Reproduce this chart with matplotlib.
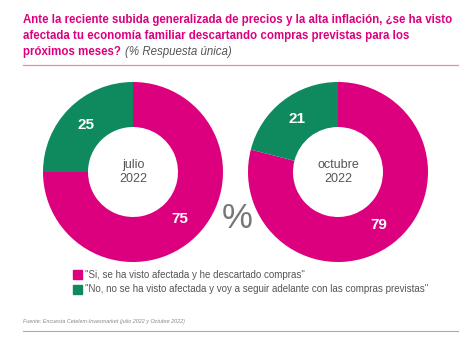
import matplotlib.pyplot as plt
from matplotlib.patches import Rectangle
from matplotlib.lines import Line2D

plt.rcParams['font.family'] = ['Liberation Sans', 'DejaVu Sans']

# data
periodos = ["julio\n2022", "octubre\n2022"]
si_afectada = [75, 79]
no_afectada = [25, 21]
leyenda = ['"Si, se ha visto afectada y he descartado compras"',
           '"No, no se ha visto afectada y voy a seguir adelante con las compras previstas"']
titulo = ["Ante la reciente subida generalizada de precios y la alta inflación, ¿se ha visto",
          "afectada tu economía familiar descartando compras previstas para los",
          "próximos meses?"]

rosa = "#DC007F"
verde = "#0E8A5E"
gris = "#555555"

W, H = 474, 337
fig = plt.figure(figsize=(W / 100, H / 100), dpi=100)

# TITULO
for i, linea in enumerate(titulo):
    t = fig.text(23 / W, 1 - (23.5 + i * 15.5) / H, linea, color=rosa, fontsize=8.3,
                 fontweight="bold", va="baseline", ha="left")
fig.canvas.draw()
bb = t.get_window_extent()
fig.text(bb.x1 / W + 4 / W, 1 - 54.5 / H, "(% Respuesta única)", color=gris, fontsize=8.3,
         fontstyle="italic", va="baseline", ha="left")
fig.add_artist(Line2D([23 / W, 458 / W], [1 - 65 / H, 1 - 65 / H], color="#E08BBE", lw=0.9))

# DONUTS
centros = [133, 338]
radio = 90
for cx, per, si, no in zip(centros, periodos, si_afectada, no_afectada):
    ax = fig.add_axes([(cx - radio) / W, 1 - (172 + radio) / H, 2 * radio / W, 2 * radio / H])
    wedges, txts, autotxt = ax.pie([si, no], colors=[rosa, verde], startangle=90,
                                   counterclock=False, radius=1,
                                   wedgeprops=dict(width=0.5, edgecolor="none"),
                                   autopct="%d", pctdistance=0.74,
                                   textprops=dict(color="white", fontsize=11, fontweight="bold"))
    for a, v in zip(autotxt, [si, no]):
        a.set_text(str(v))
    ax.text(0, 0, per, ha="center", va="center", color=gris, fontsize=9, linespacing=1.2)
    ax.set_xlim(-1, 1)
    ax.set_ylim(-1, 1)
    ax.set_aspect("equal")
    ax.axis("off")

fig.text(237.5 / W, 1 - 219 / H, "%", color="#777777", fontsize=25, ha="center", va="center")

# LEYENDA
for i, (txt, c) in enumerate(zip(leyenda, [rosa, verde])):
    y = 274.5 + i * 15
    fig.add_artist(Rectangle((73 / W, 1 - (y + 4.5) / H), 9 / W, 9 / H, color=c,
                             transform=fig.transFigure))
    fig.text(85 / W, 1 - y / H, txt, color=gris, fontsize=7.0, va="center", ha="left")

# FUENTE
fig.text(23 / W, 1 - 322 / H, "Fuente: Encuesta Cetelem-Invesmarket (julio 2022 y Octubre 2022)",
         color="#888888", fontsize=3.9, fontstyle="italic", va="center", ha="left")
fig.add_artist(Line2D([23 / W, 458 / W], [1 - 331 / H, 1 - 331 / H], color="#E08BBE", lw=0.8))

plt.savefig("out.png", dpi=100)
